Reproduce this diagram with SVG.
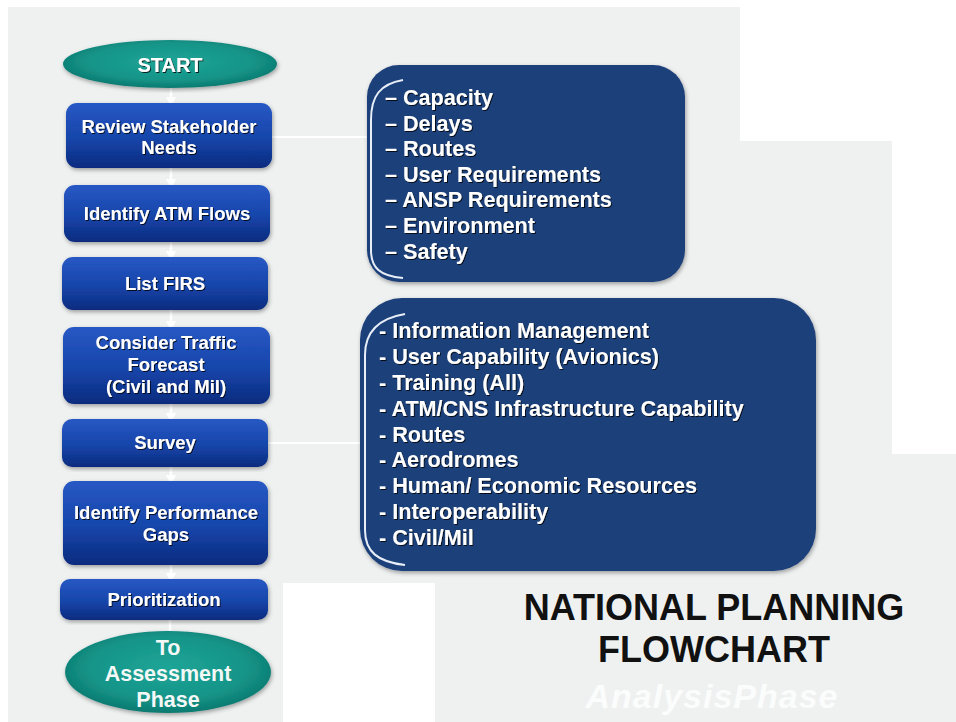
<svg xmlns="http://www.w3.org/2000/svg" width="956" height="722" viewBox="0 0 956 722">
<defs>
<linearGradient id="blueBox" x1="0" y1="0" x2="0" y2="1">
<stop offset="0" stop-color="#2858c4"/>
<stop offset="0.55" stop-color="#1645aa"/>
<stop offset="1" stop-color="#0b2b7e"/>
</linearGradient>
<radialGradient id="teal" cx="0.5" cy="0.45" r="0.55">
<stop offset="0" stop-color="#1ea597"/>
<stop offset="0.7" stop-color="#159488"/>
<stop offset="1" stop-color="#0c7a70"/>
</radialGradient>
<filter id="txtShadow" x="-10%" y="-30%" width="120%" height="160%">
<feDropShadow dx="1" dy="1" stdDeviation="0.6" flood-color="#000" flood-opacity="0.8"/>
</filter>
<filter id="boxShadow" x="-5%" y="-5%" width="110%" height="115%">
<feDropShadow dx="1" dy="2" stdDeviation="2" flood-color="#000" flood-opacity="0.35"/>
</filter>
<marker id="arr" viewBox="0 0 10 10" refX="9" refY="5" markerWidth="4" markerHeight="4" orient="auto">
<path d="M0,0 L10,5 L0,10 Z" fill="#ffffff"/>
</marker>
<style>
.box{fill:url(#blueBox);filter:url(#boxShadow)}
.oval{fill:url(#teal);filter:url(#boxShadow)}
.lbl{font-family:"Liberation Sans",Arial,sans-serif;font-weight:bold;font-size:18.5px;fill:#ffffff;text-anchor:middle;filter:url(#txtShadow)}
.olbl{font-family:"Liberation Sans",Arial,sans-serif;font-weight:bold;font-size:21.5px;fill:#f4f8f6;text-anchor:middle}
.call{fill:#1f3f79;filter:url(#boxShadow)}
.item{font-family:"Liberation Sans",Arial,sans-serif;font-weight:bold;font-size:21.6px;fill:#ffffff;filter:url(#txtShadow)}
.brk{fill:none;stroke:#e8eef8;stroke-width:2}
.flow{stroke:#ffffff;stroke-width:2.5;fill:none}
.hline{stroke:#ffffff;stroke-width:2;fill:none}
.title{font-family:"Liberation Sans",Arial,sans-serif;font-weight:bold;font-size:36px;fill:#111111;text-anchor:middle}
.wm{font-family:"Liberation Sans",Arial,sans-serif;font-weight:bold;font-style:italic;font-size:34px;fill:#fbfcfc;text-anchor:middle;letter-spacing:1px}
</style>
</defs>
<rect x="0" y="0" width="956" height="722" fill="#ffffff"/>
<path d="M8,7 L740,7 L740,141 L892,141 L892,454 L956,454 L956,722 L435,722 L435,583 L283,583 L283,722 L8,722 Z" fill="#eff1f1"/>

<g id="connectors">
<line class="flow" x1="171" y1="88" x2="171" y2="106" marker-end="url(#arr)"/>
<line class="flow" x1="171" y1="168" x2="171" y2="188" marker-end="url(#arr)"/>
<line class="flow" x1="171" y1="242" x2="171" y2="260" marker-end="url(#arr)"/>
<line class="flow" x1="171" y1="310" x2="171" y2="330" marker-end="url(#arr)"/>
<line class="flow" x1="171" y1="404" x2="171" y2="422" marker-end="url(#arr)"/>
<line class="flow" x1="171" y1="467" x2="171" y2="484" marker-end="url(#arr)"/>
<line class="flow" x1="171" y1="565" x2="171" y2="582" marker-end="url(#arr)"/>
<line class="flow" x1="170" y1="620" x2="170" y2="633"/>
<line class="hline" x1="272" y1="137" x2="367" y2="137"/>
<line class="hline" x1="268" y1="443" x2="360" y2="443"/>
</g>

<g id="start">
<ellipse class="oval" cx="170" cy="64" rx="107" ry="24"/>
<text class="lbl" x="170" y="72" style="font-size:20px">START</text>
</g>
<g id="review">
<rect class="box" x="66" y="103" width="206" height="65" rx="11"/>
<text class="lbl" x="169" y="133">Review Stakeholder</text>
<text class="lbl" x="169" y="154">Needs</text>
</g>
<g id="atm">
<rect class="box" x="64" y="185" width="206" height="57" rx="11"/>
<text class="lbl" x="167" y="220">Identify ATM Flows</text>
</g>
<g id="firs">
<rect class="box" x="62" y="257" width="206" height="53" rx="11"/>
<text class="lbl" x="165" y="290">List FIRS</text>
</g>
<g id="forecast">
<rect class="box" x="63" y="327" width="207" height="77" rx="11"/>
<text class="lbl" x="166" y="349">Consider Traffic</text>
<text class="lbl" x="166" y="371">Forecast</text>
<text class="lbl" x="166" y="393">(Civil and Mil)</text>
</g>
<g id="survey">
<rect class="box" x="62" y="419" width="206" height="48" rx="10"/>
<text class="lbl" x="165" y="449">Survey</text>
</g>
<g id="gaps">
<rect class="box" x="63" y="481" width="205" height="84" rx="11"/>
<text class="lbl" x="166" y="519">Identify Performance</text>
<text class="lbl" x="166" y="541">Gaps</text>
</g>
<g id="prioritization">
<rect class="box" x="60" y="579" width="208" height="41" rx="10"/>
<text class="lbl" x="164" y="606">Prioritization</text>
</g>
<g id="assessment">
<ellipse class="oval" cx="168" cy="672" rx="103" ry="41"/>
<text class="olbl" x="168" y="655">To</text>
<text class="olbl" x="168" y="681">Assessment</text>
<text class="olbl" x="168" y="707">Phase</text>
</g>

<g id="needs-list">
<rect class="call" x="367" y="65" width="318" height="217" rx="32"/>
<path class="brk" d="M403,80 C380,84 371,96 371,120 L371,250 C371,268 380,276 403,278"/>
<text class="item" x="385" y="105">– Capacity</text>
<text class="item" x="385" y="130.6">– Delays</text>
<text class="item" x="385" y="156.2">– Routes</text>
<text class="item" x="385" y="181.8">– User Requirements</text>
<text class="item" x="385" y="207.4">– ANSP Requirements</text>
<text class="item" x="385" y="233">– Environment</text>
<text class="item" x="385" y="258.6">– Safety</text>
</g>

<g id="survey-list">
<rect class="call" x="360" y="298" width="456" height="273" rx="42"/>
<path class="brk" d="M405,314 C381,318 365,330 365,355 L365,530 C365,552 378,562 405,565"/>
<text class="item" x="379" y="338">- Information Management</text>
<text class="item" x="379" y="363.9">- User Capability (Avionics)</text>
<text class="item" x="379" y="389.8">- Training (All)</text>
<text class="item" x="379" y="415.6">- ATM/CNS Infrastructure Capability</text>
<text class="item" x="379" y="441.5">- Routes</text>
<text class="item" x="379" y="467.4">- Aerodromes</text>
<text class="item" x="379" y="493.3">- Human/ Economic Resources</text>
<text class="item" x="379" y="519.1">- Interoperability</text>
<text class="item" x="379" y="545">- Civil/Mil</text>
</g>

<g id="title">
<text class="title" x="714" y="620">NATIONAL PLANNING</text>
<text class="title" x="714" y="662">FLOWCHART</text>
<text class="wm" x="712" y="708">AnalysisPhase</text>
</g>
</svg>
